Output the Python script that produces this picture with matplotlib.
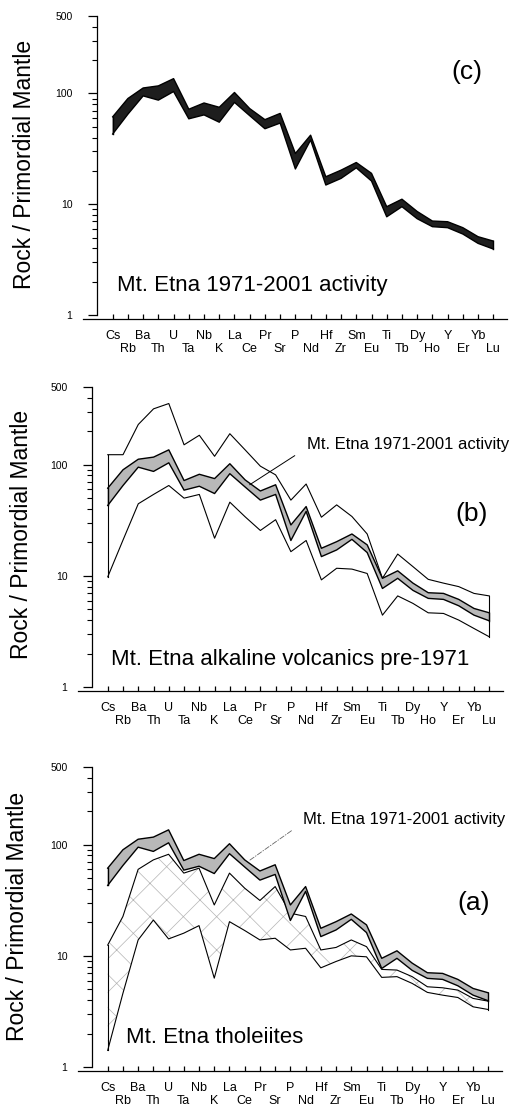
import matplotlib
matplotlib.use('Agg')
import matplotlib.pyplot as plt
from matplotlib.ticker import FixedLocator, NullFormatter

plt.rcParams['font.family'] = ['Liberation Sans', 'DejaVu Sans']
plt.rcParams['hatch.linewidth'] = 0.5

elements = ['Cs', 'Rb', 'Ba', 'Th', 'U', 'Ta', 'Nb', 'K', 'La', 'Ce', 'Pr', 'Sr', 'P',
            'Nd', 'Hf', 'Zr', 'Sm', 'Eu', 'Ti', 'Tb', 'Dy', 'Ho', 'Y', 'Er', 'Yb', 'Lu']

# Mt. Etna 1971-2001 activity (band)
band_upper = [61.5, 90, 112, 117, 136, 72, 82, 75, 102, 73, 58, 66, 28.7,
              42, 17.7, 20.3, 23.8, 19, 9.5, 11.1, 8.6, 7.05, 6.95, 6.14, 5.09, 4.65]
band_lower = [43, 65, 95, 87, 104, 59, 64, 55, 83, 63, 48, 54, 20.8,
              38, 14.9, 17.1, 21.3, 16.2, 7.7, 9.5, 7.4, 6.27, 6.14, 5.38, 4.43, 3.94]

# alkaline volcanics pre-1971 (envelope)
alk_upper = [123, 123, 230, 318, 355, 151, 184, 119, 190, 136, 97, 81, 48,
             67, 33.7, 43.5, 34.2, 23.8, 9.5, 15.7, 12.1, 9.3, 8.6, 8.0, 6.95, 6.6]
alk_lower = [9.8, 21, 44.5, 54, 65, 50, 54, 21.8, 46, 34, 25.6, 32, 16.5,
             20.8, 9.2, 11.7, 11.5, 10.5, 4.43, 6.6, 5.65, 4.65, 4.59, 4.0, 3.36, 2.83]

# tholeiites (envelope)
thol_upper = [12.5, 22.6, 60, 73, 82, 55.5, 61.5, 28.7, 55.5, 40.6, 31.5, 42, 24.2,
              22.6, 11.3, 11.9, 13.9, 12.1, 7.55, 7.45, 6.5, 5.27, 5.16, 4.92, 4.14, 3.91]
thol_lower = [1.41, 4.6, 13.9, 21, 14.2, 16, 18.7, 6.3, 20.3, 16.9, 13.9, 14.4, 11.3,
              11.7, 7.8, 8.9, 10, 9.8, 6.4, 6.5, 5.65, 4.69, 4.43, 4.22, 3.48, 3.29]

x = list(range(len(elements)))
# staggered labels: even ones on the first row, odd ones on the second
xlabels = [e + '\n' if i % 2 == 0 else '\n' + e for i, e in enumerate(elements)]

fig = plt.figure(figsize=(5.14, 11.07), dpi=100)
W, H = 514, 1107


def make_axes(left, right, bottom, top):
    ax = fig.add_axes([left / W, 1 - bottom / H, (right - left) / W, (bottom - top) / H])
    ax.set_yscale('log')
    ax.set_ylim(1, 500)
    ax.set_xlim(-1.95, 25.9)
    for s in ['top', 'right']:
        ax.spines[s].set_visible(False)
    ax.spines['left'].set_position(('data', -1.05))
    ax.spines['bottom'].set_position(('outward', 3))
    for s in ['left', 'bottom']:
        ax.spines[s].set_linewidth(0.9)
    ax.yaxis.set_major_locator(FixedLocator([1, 10, 100, 500]))
    ax.set_yticklabels(['1', '10', '100', '500'])
    minors = [m * d for d in [1, 10] for m in range(2, 10)] + [200, 300, 400]
    ax.yaxis.set_minor_locator(FixedLocator(minors))
    ax.yaxis.set_minor_formatter(NullFormatter())
    ax.tick_params(axis='y', which='major', direction='out', length=6.5, width=0.9,
                   pad=11, labelsize=7.5)
    ax.tick_params(axis='y', which='minor', direction='out', length=3.5, width=0.8)
    ax.set_xticks(x)
    ax.set_xticklabels(xlabels, fontsize=9, linespacing=1.15)
    ax.tick_params(axis='x', direction='in', length=3.5, width=0.9, pad=7.5)
    return ax


def draw_band(ax, color):
    ax.fill_between(x, band_lower, band_upper, facecolor=color, edgecolor='none', zorder=3)
    ax.plot(x, band_upper, color='black', lw=1.0, zorder=4)
    ax.plot(x, band_lower, color='black', lw=1.0, zorder=4)
    ax.plot([x[0], x[0]], [band_lower[0], band_upper[0]], color='black', lw=1.0, zorder=4)
    ax.plot([x[-1], x[-1]], [band_lower[-1], band_upper[-1]], color='black', lw=1.0, zorder=4)


def draw_envelope(ax, lower, upper):
    ax.plot(x, upper, color='black', lw=0.8, zorder=2)
    ax.plot(x, lower, color='black', lw=0.8, zorder=2)
    ax.plot([x[0], x[0]], [lower[0], upper[0]], color='black', lw=0.8, zorder=2)
    ax.plot([x[-1], x[-1]], [lower[-1], upper[-1]], color='black', lw=0.8, zorder=2)


# (c) 1971-2001 activity
axc = make_axes(83, 507, 315, 16)
draw_band(axc, '#1e1e1e')
axc.text(0.08, 0.10, 'Mt. Etna 1971-2001 activity', transform=axc.transAxes,
         fontsize=16, ha='left', va='center')
axc.text(0.906, 0.813, '(c)', transform=axc.transAxes, fontsize=19, ha='center', va='center')
fig.text(25 / W, 1 - 164 / H, 'Rock / Primordial Mantle', rotation=90, fontsize=16.5,
         ha='center', va='center')

# (b) alkaline volcanics pre-1971
axb = make_axes(78, 503, 687, 387)
draw_envelope(axb, alk_lower, alk_upper)
draw_band(axb, '#b8b8b8')
axb.annotate('Mt. Etna 1971-2001 activity', xy=(9.3, 66), xytext=(13.05, 151),
             fontsize=12, ha='left', va='center',
             arrowprops=dict(arrowstyle='-', lw=0.7, color='black',
                             relpos=(0, 0.3), shrinkA=8, shrinkB=0))
axb.text(0.078, 0.09, 'Mt. Etna alkaline volcanics pre-1971', transform=axb.transAxes,
         fontsize=16, ha='left', va='center')
axb.text(0.927, 0.577, '(b)', transform=axb.transAxes, fontsize=19, ha='center', va='center')
fig.text(21.5 / W, 1 - 534 / H, 'Rock / Primordial Mantle', rotation=90, fontsize=16.5,
         ha='center', va='center')

# (a) tholeiites
axa = make_axes(78, 502, 1067, 767)
axa.fill_between(x, thol_lower, thol_upper, facecolor='none', edgecolor='#b4b4b4',
                 hatch='x', linewidth=0, zorder=1)
draw_envelope(axa, thol_lower, thol_upper)
draw_band(axa, '#b8b8b8')
axa.annotate('Mt. Etna 1971-2001 activity', xy=(9.3, 72), xytext=(12.85, 169),
             fontsize=12, ha='left', va='center',
             arrowprops=dict(arrowstyle='-', lw=0.6, color='#666666',
                             linestyle=(0, (6, 2, 1, 2)),
                             relpos=(0, 0.3), shrinkA=8, shrinkB=0))
axa.text(0.113, 0.097, 'Mt. Etna tholeiites', transform=axa.transAxes,
         fontsize=16, ha='left', va='center')
axa.text(0.932, 0.547, '(a)', transform=axa.transAxes, fontsize=19, ha='center', va='center')
fig.text(18 / W, 1 - 916 / H, 'Rock / Primordial Mantle', rotation=90, fontsize=16.5,
         ha='center', va='center')

fig.savefig('out.png', dpi=100)
